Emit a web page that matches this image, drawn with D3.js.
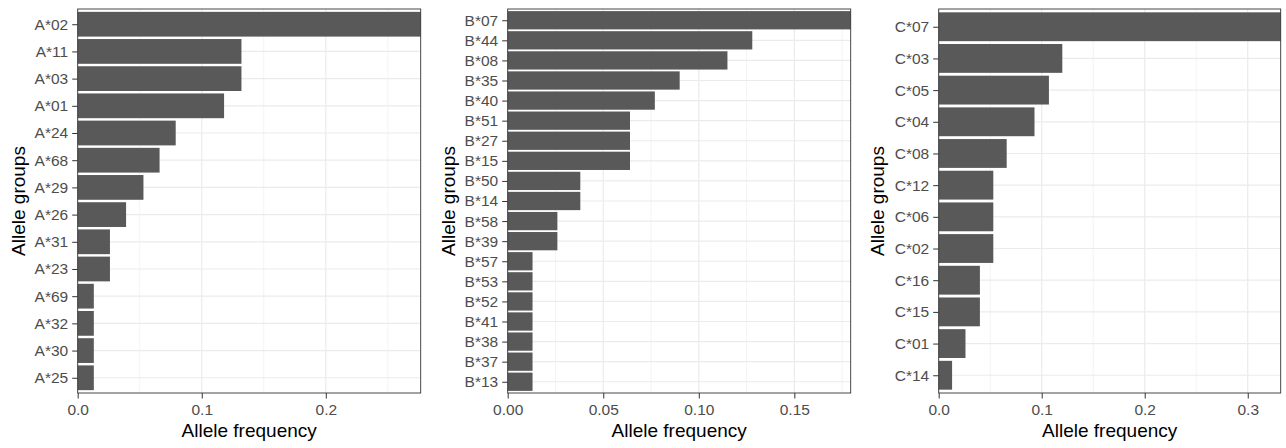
<html>
<head>
    <meta charset="utf-8">
    <style>
        body { margin: 0; background: #fff; }
    </style>
    <script src="https://cdn.jsdelivr.net/npm/d3@7"></script>
</head>
<body>
<script>

    // allele groups and frequencies
    var allelesA = ["A*02", "A*11", "A*03", "A*01", "A*24", "A*68", "A*29", "A*26", "A*31", "A*23", "A*69", "A*32", "A*30", "A*25"];
    var freqA = [0.2765, 0.132, 0.132, 0.118, 0.079, 0.066, 0.053, 0.039, 0.026, 0.026, 0.013, 0.013, 0.013, 0.013];

    var allelesB = ["B*07", "B*44", "B*08", "B*35", "B*40", "B*51", "B*27", "B*15", "B*50", "B*14", "B*58", "B*39",
        "B*57", "B*53", "B*52", "B*41", "B*38", "B*37", "B*13"];
    var freqB = [0.1795, 0.128, 0.115, 0.090, 0.077, 0.064, 0.064, 0.064, 0.038, 0.038, 0.026, 0.026,
        0.013, 0.013, 0.013, 0.013, 0.013, 0.013, 0.013];

    var allelesC = ["C*07", "C*03", "C*05", "C*04", "C*08", "C*12", "C*06", "C*02", "C*16", "C*15", "C*01", "C*14"];
    var freqC = [0.332, 0.120, 0.107, 0.093, 0.066, 0.053, 0.053, 0.053, 0.040, 0.040, 0.026, 0.013];

    // x ticks (major and minor grid)
    var ticksA = [0, 0.1, 0.2], minorA = [0.05, 0.15, 0.25];
    var ticksB = [0, 0.05, 0.10, 0.15], minorB = [0.025, 0.075, 0.125, 0.175];
    var ticksC = [0, 0.1, 0.2, 0.3], minorC = [0.05, 0.15, 0.25];

    var W = 1286, H = 448;
    var panelTop = 9, panelBottom = 393;
    var font = "'Liberation Sans', Arial, Helvetica, sans-serif";

    var svg = d3.select("body").append("svg")
        .attr("width", W)
        .attr("height", H);

    function panel(cats, vals, ticks, minor, fmt, x0, left, right) {
        var x = d3.scaleLinear()
            .domain([0, d3.max(vals)])
            .range([left, right]);

        var y = d3.scalePoint()
            .domain(cats)
            .range([panelTop, panelBottom])
            .padding(0.56);

        var g = svg.append("g");

        // background grid
        g.selectAll(".minor")
            .data(minor)
            .enter()
            .append("line")
            .attr("x1", function (d) { return x(d); })
            .attr("x2", function (d) { return x(d); })
            .attr("y1", panelTop)
            .attr("y2", panelBottom)
            .attr("stroke", "#ebebeb")
            .attr("stroke-width", 0.6);

        g.selectAll(".major")
            .data(ticks)
            .enter()
            .append("line")
            .attr("x1", function (d) { return x(d); })
            .attr("x2", function (d) { return x(d); })
            .attr("y1", panelTop)
            .attr("y2", panelBottom)
            .attr("stroke", "#ebebeb")
            .attr("stroke-width", 1.2);

        g.selectAll(".hgrid")
            .data(cats)
            .enter()
            .append("line")
            .attr("x1", left)
            .attr("x2", right)
            .attr("y1", function (d) { return y(d); })
            .attr("y2", function (d) { return y(d); })
            .attr("stroke", "#ebebeb")
            .attr("stroke-width", 1.2);

        var bh = y.step() * 0.91;

        g.selectAll(".bar")
            .data(cats)
            .enter()
            .append("rect")
            .attr("x", x(0))
            .attr("y", function (d) { return y(d) - bh / 2; })
            .attr("width", function (d, i) { return x(vals[i]) - x(0); })
            .attr("height", bh)
            .attr("fill", "#595959");

        // panel border
        g.append("rect")
            .attr("x", left)
            .attr("y", panelTop)
            .attr("width", right - left)
            .attr("height", panelBottom - panelTop)
            .attr("fill", "none")
            .attr("stroke", "#333333")
            .attr("stroke-width", 0.9);

        var xAxis = g.append("g")
            .attr("transform", "translate(0," + panelBottom + ")")
            .call(d3.axisBottom(x).tickValues(ticks).tickFormat(d3.format(fmt)).tickSize(5.5).tickPadding(5.5));
        xAxis.select(".domain").remove();

        var yAxis = g.append("g")
            .attr("transform", "translate(" + left + ",0)")
            .call(d3.axisLeft(y).tickSize(5.5).tickPadding(4));
        yAxis.select(".domain").remove();

        [xAxis, yAxis].forEach(function (a) {
            a.attr("font-family", font).attr("font-size", 15.5);
            a.selectAll(".tick line").attr("stroke", "#333333");
            a.selectAll(".tick text").attr("fill", "#4d4d4d");
        });

        g.append("text")
            .attr("font-family", font)
            .attr("font-size", 19)
            .attr("text-anchor", "middle")
            .attr("x", (left + right) / 2)
            .attr("y", 437)
            .text("Allele frequency");

        g.append("text")
            .attr("font-family", font)
            .attr("font-size", 19)
            .attr("text-anchor", "middle")
            .attr("transform", "translate(" + (x0 + 25) + "," + ((panelTop + panelBottom) / 2) + ") rotate(-90)")
            .text("Allele groups");
    }

    panel(allelesA, freqA, ticksA, minorA, ".1f", 0, 77.7, 420.7);
    panel(allelesB, freqB, ticksB, minorB, ".2f", 430, 507.7, 850.7);
    panel(allelesC, freqC, ticksC, minorC, ".1f", 859, 938.7, 1280.7);

</script>
</body>
</html>
